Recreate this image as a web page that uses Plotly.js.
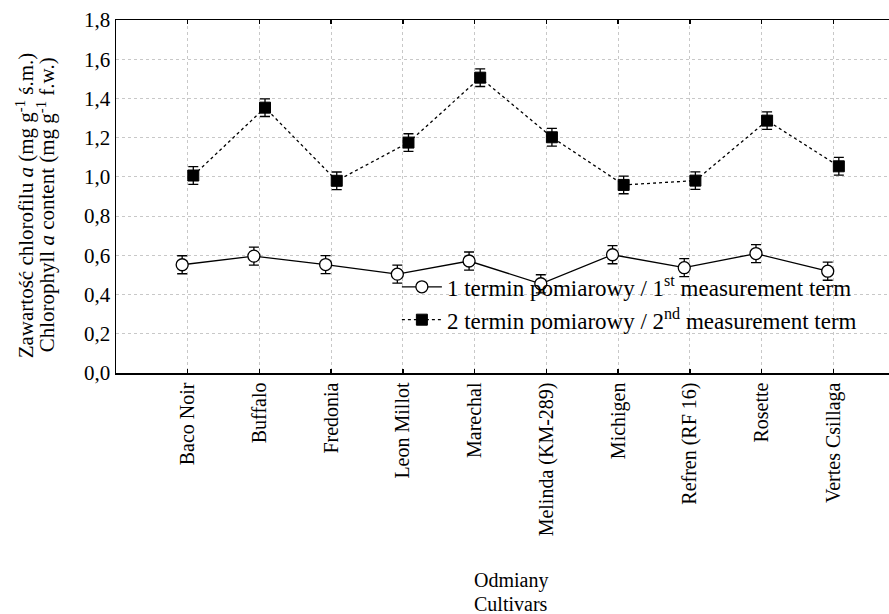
<!DOCTYPE html>
<html>
<head>
<meta charset="utf-8">
<script src="https://cdn.plot.ly/plotly-3.0.1.min.js"></script>
<style>html,body{margin:0;padding:0;background:#fff;overflow:hidden;width:889px;height:614px}#chart{width:905px;height:614px}</style>
</head>
<body>
<div id="chart"></div>
<script>
const cultivars = ["Baco Noir","Buffalo","Fredonia","Leon Millot","Marechal","Melinda (KM-289)","Michigen","Refren (RF 16)","Rosette","Vertes Csillaga"];
const term1 = [0.552, 0.596, 0.553, 0.504, 0.571, 0.455, 0.603, 0.537, 0.609, 0.519];
const term1Err = [0.046, 0.046, 0.046, 0.046, 0.046, 0.046, 0.046, 0.046, 0.046, 0.046];
const term2 = [1.007, 1.353, 0.980, 1.175, 1.506, 1.202, 0.959, 0.981, 1.287, 1.054];
const term2Err = [0.045, 0.045, 0.045, 0.045, 0.045, 0.045, 0.045, 0.045, 0.045, 0.045];
const yTicks = [0, 0.2, 0.4, 0.6, 0.8, 1.0, 1.2, 1.4, 1.6, 1.8];
const yTitle1 = "Zawartość chlorofilu <i>a</i> (mg g<sup>-1</sup> ś.m.)";
const yTitle2 = "Chlorophyll <i>a</i> content (mg g<sup>-1</sup> f.w.)";
const xTitle1 = "Odmiany";
const xTitle2 = "Cultivars";

const FONT = "Liberation Serif";

const traces = [
  {
    type: "scatter", mode: "lines+markers",
    x: cultivars, y: term1,
    name: "1 termin pomiarowy / 1<sup>st</sup> measurement term",
    line: {color: "#000", width: 1.3},
    marker: {symbol: "circle", size: 12, color: "#fff", line: {color: "#000", width: 1.3}},
    error_y: {type: "data", array: term1Err, visible: true, color: "#000", thickness: 1.3, width: 5}
  },
  {
    type: "scatter", mode: "lines+markers",
    x: cultivars, y: term2,
    name: "2 termin pomiarowy / 2<sup>nd</sup> measurement term",
    line: {color: "#000", width: 1.3, dash: "3px,3px"},
    marker: {symbol: "square", size: 11, color: "#000", line: {color: "#000", width: 1}},
    error_y: {type: "data", array: term2Err, visible: true, color: "#000", thickness: 1.3, width: 5}
  }
];

const layout = {
  width: 905, height: 614,
  margin: {l: 116, r: 0, t: 20, b: 241},
  paper_bgcolor: "#fff", plot_bgcolor: "#fff",
  separators: ", ",
  font: {family: FONT, size: 20, color: "#000"},
  scattermode: "group",
  scattergap: 0.69,
  showlegend: true,
  legend: {
    x: 0.356, y: 0.305, xanchor: "left", yanchor: "top",
    bgcolor: "rgba(0,0,0,0)", borderwidth: 0,
    font: {family: FONT, size: 23, color: "#000"},
    itemwidth: 40,
    tracegroupgap: 0
  },
  xaxis: {
    type: "category",
    range: [-1, 10],
    showline: true, linecolor: "#000", linewidth: 1.5, mirror: "ticks",
    ticks: "inside", ticklen: 4, tickcolor: "#000", tickwidth: 1.5,
    showgrid: true, gridcolor: "#c8c8c8", griddash: "dot", gridwidth: 1,
    tickangle: -90,
    tickfont: {family: FONT, size: 20, color: "#000"},
    zeroline: false
  },
  yaxis: {
    range: [0, 1.8],
    tickvals: yTicks,
    tickformat: ".1f",
    showline: true, linecolor: "#000", linewidth: 1.5, mirror: false,
    ticks: "",
    showgrid: true, gridcolor: "#c8c8c8", griddash: "dot", gridwidth: 1,
    zeroline: false,
    tickfont: {family: FONT, size: 21, color: "#000"}
  },
  annotations: [
    {text: yTitle1, xref: "paper", yref: "paper", x: 0, y: 0.475, xanchor: "center", yanchor: "middle",
     xshift: -91, textangle: -90, showarrow: false, font: {family: FONT, size: 21, color: "#000"}},
    {text: yTitle2, xref: "paper", yref: "paper", x: 0, y: 0.475, xanchor: "center", yanchor: "middle",
     xshift: -70, textangle: -90, showarrow: false, font: {family: FONT, size: 21, color: "#000"}},
    {text: xTitle1, xref: "paper", yref: "paper", x: 0.5, y: 0, xanchor: "center", yanchor: "middle",
     yshift: -207, showarrow: false, font: {family: FONT, size: 20, color: "#000"}},
    {text: xTitle2, xref: "paper", yref: "paper", x: 0.5, y: 0, xanchor: "center", yanchor: "middle",
     yshift: -231, showarrow: false, font: {family: FONT, size: 20, color: "#000"}}
  ]
};

Plotly.newPlot("chart", traces, layout, {displayModeBar: false, staticPlot: true});
</script>
</body>
</html>
